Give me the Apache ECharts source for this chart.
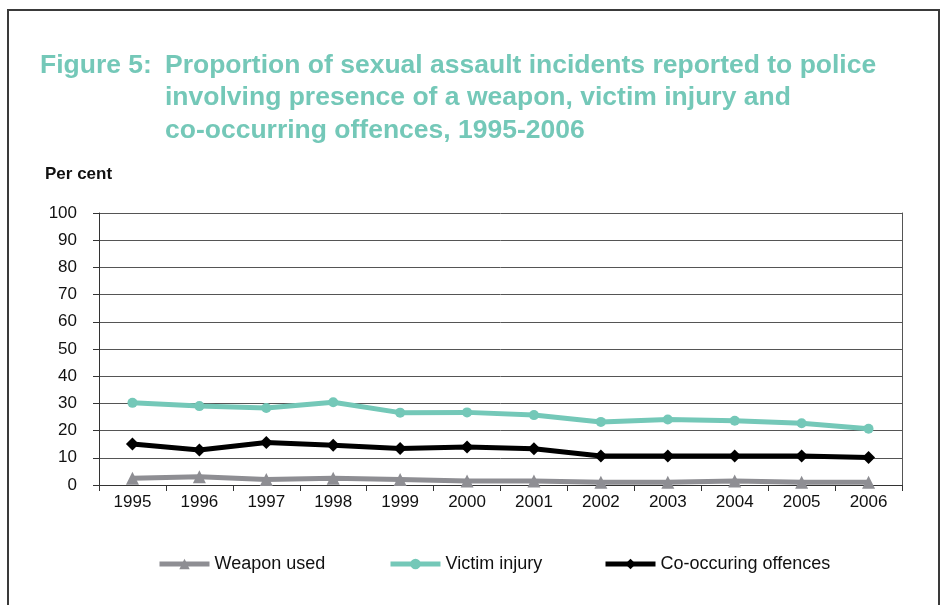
<!DOCTYPE html>
<html>
<head>
<meta charset="utf-8">
<script src="https://cdn.jsdelivr.net/npm/echarts@6/dist/echarts.min.js"></script>
<style>
  html, body { margin: 0; padding: 0; background: #fff; }
  #chart { width: 949px; height: 605px; }
</style>
</head>
<body>
<div id="chart"></div>
<script>
const years = ['1995', '1996', '1997', '1998', '1999', '2000', '2001', '2002', '2003', '2004', '2005', '2006']
const weaponUsed = [2.5, 3, 2, 2.5, 2, 1.5, 1.5, 1, 1, 1.5, 1, 1]
const victimInjury = [30.2, 29, 28.3, 30.4, 26.6, 26.7, 25.7, 23.2, 24.1, 23.6, 22.7, 20.7]
const coOffences = [15.1, 12.9, 15.6, 14.6, 13.4, 14, 13.3, 10.7, 10.7, 10.7, 10.7, 10.1]

const teal = '#74c8b8'
const grey = '#8e8e93'
const font = '"Liberation Sans Narrow", "Arial Narrow", "Liberation Sans", sans-serif'

const chart = echarts.init(document.getElementById('chart'))

const lineSeries = (name, data, color, symbol, symbolSize) => ({
  type: 'line',
  name,
  data,
  symbol,
  symbolSize,
  showSymbol: true,
  lineStyle: { color, width: 5 },
  itemStyle: { color }
})

// one legend per item so each can sit where the original has it
const legendItem = (name, left) => ({
  left,
  bottom: 27,
  itemWidth: 50,
  itemHeight: 13,
  lineStyle: { width: 5 },
  textStyle: { color: '#111', fontSize: 18, fontFamily: font },
  data: [name]
})

const titleStyle = { color: teal, fontSize: 26.5, fontWeight: 'bold', fontFamily: font, lineHeight: 32.5 }

chart.setOption({
  animation: false,
  title: [
    {
      text: 'Figure 5:',
      left: 35,
      top: 44,
      textStyle: titleStyle
    },
    {
      text: 'Proportion of sexual assault incidents reported to police\ninvolving presence of a weapon, victim injury and\nco-occurring offences, 1995-2006',
      left: 160,
      top: 44,
      textStyle: titleStyle
    },
    {
      text: 'Per cent',
      left: 40,
      top: 161,
      textStyle: { color: '#111', fontSize: 17, fontWeight: 'bold', fontFamily: font }
    }
  ],
  graphic: [
    {
      type: 'rect',
      shape: { x: 8, y: 10, width: 931, height: 620 },
      style: { fill: 'none', stroke: '#3a3a3a', lineWidth: 2 }
    }
  ],
  legend: [
    legendItem('Weapon used', 152),
    legendItem('Victim injury', 383),
    legendItem('Co-occuring offences', 598)
  ],
  grid: {
    left: 99,
    right: 47,
    top: 213,
    bottom: 120
  },
  xAxis: {
    type: 'category',
    data: years,
    boundaryGap: true,
    axisLine: { lineStyle: { color: '#333', width: 1 } },
    axisTick: { show: true, length: 6, lineStyle: { color: '#333' } },
    axisLabel: { color: '#111', fontSize: 17, fontFamily: font, margin: 9 }
  },
  yAxis: [
    {
      type: 'value',
      min: 0,
      max: 100,
      interval: 10,
      axisLine: { show: true, lineStyle: { color: '#333', width: 1 } },
      axisTick: { show: true, length: 6, lineStyle: { color: '#333' } },
      axisLabel: { color: '#111', fontSize: 17, fontFamily: font, margin: 22 },
      splitLine: { show: true, lineStyle: { color: '#555', width: 1 } }
    },
    {
      type: 'value',
      position: 'right',
      min: 0,
      max: 100,
      interval: 10,
      axisLine: { show: true, lineStyle: { color: '#555', width: 1 } },
      axisTick: { show: false },
      axisLabel: { show: false },
      splitLine: { show: false }
    }
  ],
  series: [
    lineSeries('Weapon used', weaponUsed, grey, 'triangle', 13),
    lineSeries('Victim injury', victimInjury, teal, 'circle', 10),
    lineSeries('Co-occuring offences', coOffences, '#000', 'diamond', 13)
  ]
})
</script>
</body>
</html>
